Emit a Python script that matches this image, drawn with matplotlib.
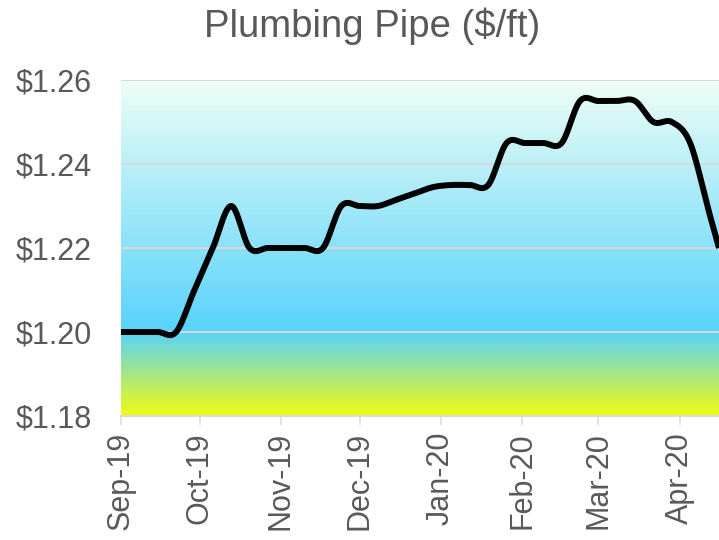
import numpy as np
import pandas as pd
import matplotlib
matplotlib.use("Agg")
import matplotlib.pyplot as plt
import matplotlib.dates as mdates
from matplotlib.colors import LinearSegmentedColormap
from matplotlib.ticker import FuncFormatter

plt.rcParams['font.family'] = ['Liberation Sans', 'DejaVu Sans']

# weekly price readings
dates = ['2019-09-01', '2019-09-08', '2019-09-15', '2019-09-22', '2019-09-29',
         '2019-10-06', '2019-10-13', '2019-10-20', '2019-10-27', '2019-11-03',
         '2019-11-10', '2019-11-17', '2019-11-24', '2019-12-01', '2019-12-08',
         '2019-12-15', '2019-12-22', '2019-12-29', '2020-01-05', '2020-01-12',
         '2020-01-19', '2020-01-26', '2020-02-02', '2020-02-09', '2020-02-16',
         '2020-02-23', '2020-03-01', '2020-03-08', '2020-03-15', '2020-03-22',
         '2020-03-29', '2020-04-05', '2020-04-12', '2020-04-16']
prices = [1.200, 1.200, 1.200, 1.200, 1.210,
          1.220, 1.230, 1.220, 1.220, 1.220,
          1.220, 1.220, 1.230, 1.230, 1.230,
          1.2315, 1.233, 1.2345, 1.235, 1.235,
          1.235, 1.245, 1.245, 1.245, 1.245,
          1.255, 1.255, 1.255, 1.255, 1.250,
          1.250, 1.245, 1.229, 1.220]

title = 'Plumbing Pipe ($/ft)'
y_ticks = [1.18, 1.20, 1.22, 1.24, 1.26]

gray_text = '#595959'
grid_col = '#D9D9D9'


def smooth(xs, ys, n=40):
    # excel-style smoothed line (bezier through each point)
    pts = np.column_stack([xs, ys])
    out = []
    for i in range(len(pts) - 1):
        p0 = pts[i - 1] if i > 0 else pts[i]
        p1 = pts[i]
        p2 = pts[i + 1]
        p3 = pts[i + 2] if i + 2 < len(pts) else pts[i + 1]
        c1 = p1 + (p2 - p0) / 6
        c2 = p2 - (p3 - p1) / 6
        t = np.linspace(0, 1, n)[:, None]
        seg = (1 - t) ** 3 * p1 + 3 * (1 - t) ** 2 * t * c1 + 3 * (1 - t) * t ** 2 * c2 + t ** 3 * p2
        out.append(seg)
    return np.vstack(out)


x = mdates.date2num(pd.to_datetime(dates).to_pydatetime())
y = np.array(prices)

fig = plt.figure(figsize=(7.19, 5.4), dpi=100)
ax = fig.add_axes([121 / 719, 124 / 540, 598 / 719, 336 / 540])

xmin, xmax = x[0], x[-1]
ymin, ymax = y_ticks[0], y_ticks[-1]

# background gradient: yellow -> cyan (at $1.20) -> pale mint
cmap = LinearSegmentedColormap.from_list(
    'bg', [(0.0, '#F0FA13'), (0.25, '#57D3FC'), (1.0, '#EEFEF5')])
grad = np.linspace(0, 1, 400).reshape(-1, 1)
ax.imshow(grad, cmap=cmap, aspect='auto', origin='lower',
          extent=[xmin, xmax, ymin, ymax], zorder=0)

for v in y_ticks[1:]:
    ax.axhline(v, color=grid_col, lw=1.5, zorder=1)

sm = smooth(x, y)
ax.plot(sm[:, 0], sm[:, 1], color='black', lw=4.3, solid_joinstyle='round',
        solid_capstyle='butt', zorder=3)

ax.set_xlim(xmin, xmax)
ax.set_ylim(ymin, ymax)
ax.set_yticks(y_ticks)
ax.yaxis.set_major_formatter(FuncFormatter(lambda v, p: '${:.2f}'.format(v)))

ax.xaxis.set_major_locator(mdates.MonthLocator())
ax.xaxis.set_major_formatter(mdates.DateFormatter('%b-%y'))

for s in ['top', 'right', 'left']:
    ax.spines[s].set_visible(False)
ax.spines['bottom'].set_color(grid_col)
ax.spines['bottom'].set_linewidth(1.5)

ax.tick_params(axis='y', length=0, pad=21, labelsize=22, labelcolor=gray_text)
ax.tick_params(axis='x', length=6.5, width=1.1, color=grid_col, pad=5,
               labelsize=22, labelcolor=gray_text, labelrotation=90)

fig.text(372 / 719, 1 - 26 / 540, title, fontsize=27.5, color=gray_text,
         ha='center', va='center')

fig.savefig('out.png', dpi=100)
